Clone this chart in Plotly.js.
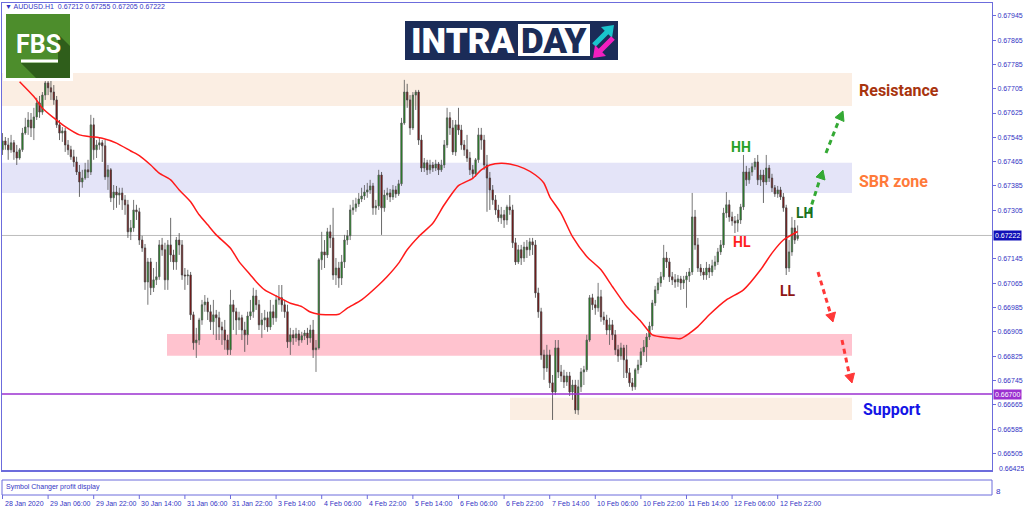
<!DOCTYPE html>
<html><head><meta charset="utf-8">
<script src="https://cdn.plot.ly/plotly-3.0.1.min.js"></script>
<style>html,body{margin:0;padding:0;background:#fff;}#chart{width:1024px;height:511px;}</style>
</head><body><div id="chart"></div>
<script>
// ---- DATA (AUDUSD H1) ----
const open=[0.67504,0.67533,0.67520,0.67504,0.67527,0.67497,0.67477,0.67504,0.67559,0.67579,
0.67602,0.67576,0.67612,0.67658,0.67628,0.67684,0.67724,0.67708,0.67694,0.67668,
0.67586,0.67559,0.67566,0.67520,0.67504,0.67481,0.67464,0.67431,0.67398,0.67411,
0.67438,0.67431,0.67586,0.67504,0.67520,0.67527,0.67517,0.67415,0.67438,0.67346,
0.67365,0.67355,0.67362,0.67339,0.67323,0.67234,0.67247,0.67306,0.67300,0.67207,
0.67181,0.67069,0.67135,0.67050,0.67076,0.67086,0.67191,0.67175,0.67076,0.67191,
0.67158,0.67135,0.67207,0.67191,0.67092,0.67089,0.67092,0.66961,0.66869,0.66878,
0.66944,0.66994,0.67003,0.66971,0.66938,0.66961,0.66951,0.66921,0.66911,0.66878,
0.66846,0.66994,0.66971,0.66944,0.66951,0.66911,0.66895,0.66957,0.66971,0.67023,
0.66994,0.66928,0.66944,0.66951,0.66921,0.66971,0.66951,0.67010,0.67017,0.66994,
0.66971,0.66872,0.66895,0.66885,0.66898,0.66878,0.66892,0.66901,0.66885,0.66911,
0.66846,0.66852,0.67142,0.67168,0.67158,0.67234,0.67214,0.67092,0.67115,0.67082,
0.67135,0.67207,0.67221,0.67306,0.67313,0.67326,0.67342,0.67352,0.67365,0.67372,
0.67385,0.67313,0.67319,0.67421,0.67313,0.67355,0.67362,0.67349,0.67372,0.67359,
0.67392,0.67592,0.67694,0.67668,0.67576,0.67684,0.67694,0.67536,0.67444,0.67461,
0.67438,0.67454,0.67444,0.67457,0.67438,0.67454,0.67520,0.67609,0.67576,0.67497,
0.67586,0.67569,0.67520,0.67504,0.67477,0.67438,0.67425,0.67471,0.67553,0.67536,
0.67454,0.67411,0.67372,0.67339,0.67306,0.67280,0.67290,0.67273,0.67316,0.67306,
0.67198,0.67135,0.67175,0.67148,0.67184,0.67175,0.67201,0.67191,0.67033,0.66971,
0.66829,0.66786,0.66829,0.66737,0.66707,0.66852,0.66773,0.66760,0.66740,0.66760,
0.66707,0.66730,0.66648,0.66724,0.66773,0.66780,0.66878,0.67017,0.66994,0.66984,
0.67020,0.66954,0.66944,0.66911,0.66928,0.66895,0.66846,0.66826,0.66852,0.66813,
0.66770,0.66737,0.66724,0.66780,0.66796,0.66839,0.66855,0.66888,0.66924,0.67000,
0.67043,0.67066,0.67086,0.67148,0.67135,0.67086,0.67076,0.67069,0.67079,0.67066,
0.67076,0.67089,0.67102,0.67283,0.67191,0.67115,0.67102,0.67092,0.67115,0.67102,
0.67122,0.67135,0.67168,0.67191,0.67296,0.67323,0.67283,0.67270,0.67263,0.67273,
0.67316,0.67431,0.67405,0.67431,0.67448,0.67464,0.67405,0.67421,0.67398,0.67444,
0.67411,0.67379,0.67359,0.67372,0.67349,0.67313,0.67115,0.67168,0.67247,0.67212];
const high=[0.67559,0.67546,0.67543,0.67553,0.67536,0.67520,0.67510,0.67576,0.67609,0.67628,
0.67625,0.67642,0.67675,0.67681,0.67694,0.67734,0.67734,0.67731,0.67717,0.67681,
0.67602,0.67579,0.67576,0.67536,0.67517,0.67504,0.67481,0.67454,0.67438,0.67461,
0.67471,0.67619,0.67609,0.67536,0.67543,0.67536,0.67536,0.67454,0.67444,0.67388,
0.67385,0.67379,0.67379,0.67355,0.67339,0.67273,0.67339,0.67323,0.67313,0.67221,
0.67194,0.67148,0.67148,0.67115,0.67135,0.67207,0.67214,0.67198,0.67207,0.67280,
0.67175,0.67217,0.67230,0.67207,0.67115,0.67109,0.67102,0.66971,0.66918,0.66951,
0.67010,0.67026,0.67017,0.66994,0.67010,0.66977,0.66971,0.66938,0.66944,0.66895,
0.67043,0.67010,0.66984,0.66971,0.66961,0.66938,0.66971,0.67010,0.67050,0.67043,
0.67010,0.66967,0.66977,0.66971,0.67010,0.66994,0.67026,0.67059,0.67059,0.67010,
0.66994,0.66918,0.66911,0.66918,0.66911,0.66905,0.66911,0.66918,0.66928,0.66944,
0.66878,0.67148,0.67234,0.67207,0.67247,0.67257,0.67313,0.67148,0.67135,0.67158,
0.67224,0.67240,0.67323,0.67339,0.67346,0.67362,0.67379,0.67388,0.67395,0.67405,
0.67395,0.67339,0.67438,0.67431,0.67372,0.67379,0.67375,0.67388,0.67385,0.67405,
0.67609,0.67734,0.67721,0.67684,0.67694,0.67701,0.67701,0.67553,0.67477,0.67471,
0.67471,0.67464,0.67471,0.67464,0.67471,0.67536,0.67642,0.67628,0.67602,0.67602,
0.67642,0.67586,0.67536,0.67553,0.67497,0.67454,0.67477,0.67576,0.67576,0.67553,
0.67487,0.67431,0.67388,0.67355,0.67323,0.67316,0.67306,0.67323,0.67355,0.67323,
0.67214,0.67191,0.67191,0.67201,0.67207,0.67214,0.67214,0.67207,0.67050,0.66984,
0.66846,0.66862,0.66846,0.66763,0.66878,0.66878,0.66796,0.66780,0.66773,0.66773,
0.66747,0.66747,0.66747,0.66786,0.66793,0.66895,0.67026,0.67030,0.67010,0.67066,
0.67043,0.66971,0.66961,0.66951,0.66944,0.66911,0.66862,0.66869,0.66862,0.66862,
0.66786,0.66753,0.66786,0.66813,0.66852,0.66878,0.66901,0.66938,0.67010,0.67056,
0.67082,0.67102,0.67191,0.67168,0.67148,0.67102,0.67095,0.67092,0.67089,0.67089,
0.67102,0.67115,0.67362,0.67306,0.67214,0.67128,0.67115,0.67135,0.67128,0.67142,
0.67155,0.67181,0.67207,0.67313,0.67365,0.67339,0.67300,0.67286,0.67293,0.67326,
0.67487,0.67451,0.67444,0.67461,0.67477,0.67487,0.67438,0.67438,0.67487,0.67454,
0.67425,0.67388,0.67385,0.67382,0.67362,0.67323,0.67207,0.67283,0.67273,0.67255];
const low=[0.67487,0.67504,0.67471,0.67494,0.67471,0.67454,0.67471,0.67497,0.67553,0.67553,
0.67546,0.67536,0.67602,0.67609,0.67619,0.67668,0.67684,0.67668,0.67652,0.67576,
0.67536,0.67530,0.67497,0.67487,0.67471,0.67448,0.67421,0.67349,0.67379,0.67405,
0.67411,0.67421,0.67471,0.67477,0.67504,0.67464,0.67405,0.67372,0.67332,0.67306,
0.67313,0.67323,0.67306,0.67290,0.67214,0.67207,0.67234,0.67273,0.67191,0.67168,
0.67043,0.66994,0.67026,0.67036,0.67059,0.67076,0.67155,0.67043,0.67043,0.67135,
0.67109,0.67109,0.67158,0.67076,0.67043,0.67059,0.66944,0.66846,0.66819,0.66862,
0.66928,0.66971,0.66944,0.66911,0.66895,0.66878,0.66878,0.66862,0.66846,0.66829,
0.66829,0.66911,0.66895,0.66911,0.66878,0.66839,0.66862,0.66944,0.66951,0.66977,
0.66911,0.66885,0.66911,0.66905,0.66911,0.66928,0.66938,0.66994,0.66971,0.66951,
0.66852,0.66829,0.66862,0.66872,0.66859,0.66869,0.66878,0.66862,0.66869,0.66819,
0.66773,0.66846,0.67109,0.67115,0.67148,0.67181,0.67076,0.67059,0.67050,0.67059,
0.67115,0.67191,0.67207,0.67290,0.67300,0.67316,0.67332,0.67339,0.67346,0.67359,
0.67290,0.67290,0.67306,0.67224,0.67300,0.67339,0.67332,0.67339,0.67346,0.67352,
0.67385,0.67586,0.67642,0.67553,0.67569,0.67635,0.67520,0.67431,0.67431,0.67421,
0.67425,0.67431,0.67434,0.67421,0.67431,0.67444,0.67510,0.67553,0.67487,0.67484,
0.67553,0.67504,0.67484,0.67464,0.67421,0.67411,0.67415,0.67461,0.67504,0.67438,
0.67300,0.67306,0.67323,0.67290,0.67267,0.67260,0.67247,0.67257,0.67290,0.67181,
0.67125,0.67128,0.67125,0.67135,0.67148,0.67155,0.67158,0.67017,0.66951,0.66813,
0.66747,0.66773,0.66720,0.66615,0.66697,0.66753,0.66740,0.66720,0.66727,0.66694,
0.66681,0.66635,0.66632,0.66707,0.66730,0.66773,0.66872,0.66977,0.66961,0.66971,
0.66938,0.66928,0.66895,0.66862,0.66878,0.66829,0.66806,0.66813,0.66753,0.66753,
0.66724,0.66711,0.66714,0.66767,0.66786,0.66826,0.66806,0.66878,0.66911,0.66990,
0.67030,0.67053,0.67076,0.67115,0.67069,0.67059,0.67050,0.67053,0.67043,0.67046,
0.66984,0.67069,0.67092,0.67175,0.67102,0.67089,0.67076,0.67076,0.67082,0.67089,
0.67109,0.67125,0.67158,0.67181,0.67280,0.67267,0.67254,0.67230,0.67234,0.67260,
0.67306,0.67385,0.67392,0.67418,0.67438,0.67388,0.67385,0.67329,0.67388,0.67398,
0.67365,0.67349,0.67346,0.67339,0.67300,0.67092,0.67102,0.67155,0.67194,0.67205];
const close=[0.67533,0.67520,0.67504,0.67527,0.67497,0.67477,0.67504,0.67559,0.67579,0.67602,
0.67576,0.67612,0.67658,0.67628,0.67684,0.67724,0.67708,0.67694,0.67668,0.67586,
0.67559,0.67566,0.67520,0.67504,0.67481,0.67464,0.67431,0.67398,0.67411,0.67438,
0.67431,0.67586,0.67504,0.67520,0.67527,0.67517,0.67415,0.67438,0.67346,0.67365,
0.67355,0.67362,0.67339,0.67323,0.67234,0.67247,0.67306,0.67300,0.67207,0.67181,
0.67069,0.67135,0.67050,0.67076,0.67086,0.67191,0.67175,0.67076,0.67191,0.67158,
0.67135,0.67207,0.67191,0.67092,0.67089,0.67092,0.66961,0.66869,0.66878,0.66944,
0.66994,0.67003,0.66971,0.66938,0.66961,0.66951,0.66921,0.66911,0.66878,0.66846,
0.66994,0.66971,0.66944,0.66951,0.66911,0.66895,0.66957,0.66971,0.67023,0.66994,
0.66928,0.66944,0.66951,0.66921,0.66971,0.66951,0.67010,0.67017,0.66994,0.66971,
0.66872,0.66895,0.66885,0.66898,0.66878,0.66892,0.66901,0.66885,0.66911,0.66846,
0.66852,0.67142,0.67168,0.67158,0.67234,0.67214,0.67092,0.67115,0.67082,0.67135,
0.67207,0.67221,0.67306,0.67313,0.67326,0.67342,0.67352,0.67365,0.67372,0.67385,
0.67313,0.67319,0.67421,0.67313,0.67355,0.67362,0.67349,0.67372,0.67359,0.67392,
0.67592,0.67694,0.67668,0.67576,0.67684,0.67694,0.67536,0.67444,0.67461,0.67438,
0.67454,0.67444,0.67457,0.67438,0.67454,0.67520,0.67609,0.67576,0.67497,0.67586,
0.67569,0.67520,0.67504,0.67477,0.67438,0.67425,0.67471,0.67553,0.67536,0.67454,
0.67411,0.67372,0.67339,0.67306,0.67280,0.67290,0.67273,0.67316,0.67306,0.67198,
0.67135,0.67175,0.67148,0.67184,0.67175,0.67201,0.67191,0.67033,0.66971,0.66829,
0.66786,0.66829,0.66737,0.66707,0.66852,0.66773,0.66760,0.66740,0.66760,0.66707,
0.66730,0.66648,0.66724,0.66773,0.66780,0.66878,0.67017,0.66994,0.66984,0.67020,
0.66954,0.66944,0.66911,0.66928,0.66895,0.66846,0.66826,0.66852,0.66813,0.66770,
0.66737,0.66724,0.66780,0.66796,0.66839,0.66855,0.66888,0.66924,0.67000,0.67043,
0.67066,0.67086,0.67148,0.67135,0.67086,0.67076,0.67069,0.67079,0.67066,0.67076,
0.67089,0.67102,0.67283,0.67191,0.67115,0.67102,0.67092,0.67115,0.67102,0.67122,
0.67135,0.67168,0.67191,0.67296,0.67323,0.67283,0.67270,0.67263,0.67273,0.67316,
0.67431,0.67405,0.67431,0.67448,0.67464,0.67405,0.67421,0.67398,0.67444,0.67411,
0.67379,0.67359,0.67372,0.67349,0.67313,0.67115,0.67168,0.67247,0.67207,0.67222];
// moving average (red line), read at these bar numbers
const maBar=[6,11,14,18,22,27,31,35,40,45,48,52,55,59,62,66,69,72,75,80,83,87,89,92,97,101,105,108,111,118,121,126,132,135,139,142,146,151,155,160,165,168,171,175,178,183,187,190,192,196,200,205,210,214,219,224,228,233,238,241,244,248,254,260,266,270,274,279];
const maVal=[0.67728,0.67679,0.67641,0.67609,0.67580,0.67553,0.67547,0.67542,0.67526,0.67500,0.67485,0.67454,0.67427,0.67405,0.67372,0.67333,0.67290,0.67257,0.67224,0.67180,0.67136,0.67092,0.67070,0.67043,0.67018,0.66999,0.66988,0.66970,0.66963,0.66963,0.66983,0.67010,0.67059,0.67087,0.67131,0.67175,0.67218,0.67262,0.67323,0.67386,0.67410,0.67438,0.67454,0.67460,0.67457,0.67443,0.67421,0.67394,0.67350,0.67295,0.67218,0.67153,0.67109,0.67054,0.66988,0.66939,0.66895,0.66886,0.66883,0.66900,0.66922,0.66961,0.67010,0.67043,0.67109,0.67164,0.67207,0.67235];
const xTickBars=[0,16,32,48,64,80,96,112,128,144,160,176,192,208,224,240,256,272];
const xTickLabels=["28 Jan 2020","29 Jan 06:00","29 Jan 22:00","30 Jan 14:00","31 Jan 06:00","31 Jan 22:00","3 Feb 14:00","4 Feb 06:00","4 Feb 22:00","5 Feb 14:00","6 Feb 06:00","6 Feb 22:00","7 Feb 14:00","10 Feb 06:00","10 Feb 22:00","11 Feb 14:00","12 Feb 06:00","12 Feb 22:00"];
const yTickVals=[0.67945,0.67865,0.67785,0.67705,0.67625,0.67545,0.67465,0.67385,0.67305,0.67145,0.67065,0.66985,0.66905,0.66825,0.66745,0.66665,0.66585,0.66505];
const yBottomLabel=0.66425;
const lastPrice=0.67222;
const levelPrice=0.66700;
const header="\u25BC AUDUSD.H1  0.67212 0.67255 0.67205 0.67222";
const resistanceZone=[0.67648,0.67757], sbrZone=[0.67362,0.67461], pinkZone=[0.66826,0.66898], supportZone=[0.66615,0.66688];

// ---- geometry helpers (pixel -> paper) ----
const PL=2,PR=992,PT=3,PB=471;
const X=p=>(p-PL)/(PR-PL), Y=p=>(PB-p)/(PB-PT);
const path=pts=>'M'+pts.map(p=>X(p[0]).toFixed(5)+','+Y(p[1]).toFixed(5)).join(' L')+' Z';
const bars=open.map((_,i)=>i);
const axisBlue='#6c6cdc', textBlue='#3434c4';
const FONT='Liberation Sans, Arial, sans-serif';

const traces=[
 {type:'candlestick',x:bars,open:open,high:high,low:low,close:close,
  increasing:{line:{color:'#555555',width:0.8},fillcolor:'#109010'},
  decreasing:{line:{color:'#444444',width:0.8},fillcolor:'#900000'},
  whiskerwidth:0,hoverinfo:'skip',showlegend:false},
 {type:'scatter',mode:'lines',x:maBar,y:maVal,line:{color:'#ff1a1a',width:1.5,shape:'spline',smoothing:0.6},hoverinfo:'skip',showlegend:false}
];

const shapes=[];
const rectY=(x0,x1,z,col)=>shapes.push({type:'rect',layer:'below',xref:'paper',yref:'y',x0:x0,x1:x1,y0:z[0],y1:z[1],fillcolor:col,line:{width:0}});
rectY(0,X(852),resistanceZone,'#fbeee3');
rectY(0,X(852),sbrZone,'#e4e4f8');
rectY(X(167),X(852),pinkZone,'#ffc3cf');
rectY(X(510),X(852),supportZone,'#fbeee3');
shapes.push({type:'line',layer:'below',xref:'paper',yref:'y',x0:0,x1:1,y0:lastPrice,y1:lastPrice,line:{color:'#bdbdbd',width:1}});
shapes.push({type:'line',layer:'above',xref:'paper',yref:'y',x0:0,x1:1,y0:levelPrice,y1:levelPrice,line:{color:'#9b30d0',width:1.5}});
// bottom border & sub window
shapes.push({type:'line',xref:'paper',yref:'paper',x0:0,x1:1,y0:Y(471),y1:Y(471),line:{color:axisBlue,width:2}});
shapes.push({type:'rect',xref:'paper',yref:'paper',x0:X(2),x1:X(992),y0:Y(480),y1:Y(495),line:{color:axisBlue,width:1},fillcolor:'rgba(0,0,0,0)'});
xTickBars.forEach(b=>shapes.push({type:'line',xref:'x',yref:'paper',x0:b,x1:b,y0:Y(495),y1:Y(499),line:{color:axisBlue,width:1}}));
// FBS logo
shapes.push({type:'rect',xref:'paper',yref:'paper',x0:X(3),x1:X(73),y0:Y(81),y1:Y(11),fillcolor:'#ffffff',line:{width:0}});
shapes.push({type:'rect',xref:'paper',yref:'paper',x0:X(6),x1:X(70),y0:Y(78),y1:Y(14),fillcolor:'#4d8d2c',line:{width:0}});
shapes.push({type:'path',xref:'paper',yref:'paper',path:path([[58,34],[70,46],[70,78],[36,78],[21,63],[58,63]]),fillcolor:'#2f5e1b',line:{width:0}});
shapes.push({type:'rect',xref:'paper',yref:'paper',x0:X(21),x1:X(58),y0:Y(62.5),y1:Y(59.5),fillcolor:'#ffffff',line:{width:0}});
// INTRADAY logo
shapes.push({type:'rect',xref:'paper',yref:'paper',x0:X(405),x1:X(618),y0:Y(60),y1:Y(21),fillcolor:'#1b2c58',line:{width:0}});
shapes.push({type:'rect',xref:'paper',yref:'paper',x0:X(518),x1:X(590),y0:Y(56),y1:Y(24),fillcolor:'#ffffff',line:{width:0}});
shapes.push({type:'path',xref:'paper',yref:'paper',path:path([[614,25],[612,38],[608.3,34.3],[595.8,46.8],[592.2,43.2],[604.7,30.7],[601,27]]),fillcolor:'#19c4cc',line:{width:0}});
shapes.push({type:'path',xref:'paper',yref:'paper',path:path([[593,58],[595,45],[598.7,48.7],[611.2,36.2],[614.8,39.8],[602.3,52.3],[606,56]]),fillcolor:'#f21fc0',line:{width:0}});
// dashed arrows
const dashLine=(a,b,col)=>shapes.push({type:'line',xref:'paper',yref:'paper',x0:X(a[0]),y0:Y(a[1]),x1:X(b[0]),y1:Y(b[1]),line:{color:col,width:3,dash:'5px,4px'}});
const head=(pts,col)=>shapes.push({type:'path',xref:'paper',yref:'paper',path:path(pts),fillcolor:col,line:{color:col,width:1}});
const G='#34a934', Rd='#ff3838';
dashLine([809,213],[820,179],G); head([[823,170],[825,180],[816,177]],G);
dashLine([826,153],[839,120],G); head([[843,111],[844,121.5],[835,117.5]],G);
dashLine([818,272],[830,312],Rd); head([[833,322],[835.5,312],[825.8,315]],Rd);
dashLine([842,340],[849,373],Rd); head([[852,383],[854.5,373],[845,375.5]],Rd);

const ann=[];
const T=(text,x,y,o)=>ann.push(Object.assign({text:text,xref:'paper',yref:'paper',x:X(x),y:Y(y),showarrow:false,xanchor:'left',yanchor:'middle',font:{family:FONT,size:7,color:textBlue}},o||{}));
T(header,3,7);
T('Symbol Changer profit display',4,487);
T('8',994,491,{font:{family:FONT,size:8,color:textBlue}});
xTickBars.forEach((b,i)=>ann.push({text:xTickLabels[i],xref:'x',yref:'paper',x:b,y:Y(503),xanchor:'left',yanchor:'middle',showarrow:false,xshift:0,font:{family:FONT,size:7,color:textBlue}}));
T(yBottomLabel.toFixed(5),997,468);
ann.push({text:lastPrice.toFixed(5),xref:'paper',yref:'y',x:X(993),y:lastPrice,xanchor:'left',yanchor:'middle',showarrow:false,bgcolor:'#1010b8',borderpad:1,font:{family:FONT,size:7,color:'#ffffff'}});
ann.push({text:levelPrice.toFixed(5),xref:'paper',yref:'y',x:X(993),y:levelPrice,xanchor:'left',yanchor:'middle',showarrow:false,bgcolor:'#9b30d0',borderpad:1,font:{family:FONT,size:7,color:'#ffffff'}});
// logos text
T('FBS',38.5,44,{xanchor:'center',font:{family:'Roboto, sans-serif',size:25,color:'#ffffff',weight:'bold'}});
T('INTRA',463,41.5,{xanchor:'center',font:{family:'Roboto, sans-serif',size:35,color:'#ffffff',weight:900}});
T('DAY',554,41.5,{xanchor:'center',font:{family:'Roboto, sans-serif',size:35,color:'#1b2c58',weight:900}});
// zone labels and swing labels
const BF='Roboto, sans-serif';
T('Resistance',857,90,{font:{family:BF,size:16,color:'#a8340e',weight:'bold'}});
T('SBR zone',857,181,{font:{family:BF,size:16,color:'#ff7a3a',weight:'bold'}});
T('Support',861,409,{font:{family:BF,size:16,color:'#1414e6',weight:'bold'}});
T('HH',741,147,{xanchor:'center',font:{family:BF,size:14,color:'#26a126',weight:'bold'}});
T('HL',742,242,{xanchor:'center',font:{family:BF,size:14,color:'#ff1e1e',weight:'bold'}});
T('LH',804,213,{xanchor:'center',font:{family:BF,size:14,color:'#1b6e1b',weight:'bold'}});
T('LL',788,291,{xanchor:'center',font:{family:BF,size:14,color:'#8e1414',weight:'bold'}});

const layout={width:1024,height:511,margin:{l:PL,r:1024-PR,t:PT,b:511-PB},
 paper_bgcolor:'#ffffff',plot_bgcolor:'#ffffff',showlegend:false,hovermode:false,
 xaxis:{range:[-0.175,347.2],showgrid:false,zeroline:false,showticklabels:false,ticks:'',showline:true,linecolor:axisBlue,linewidth:1,mirror:true,rangeslider:{visible:false},fixedrange:true},
 yaxis:{side:'right',range:[0.66447,0.67987],tickvals:yTickVals,ticktext:yTickVals.map(v=>v.toFixed(5)),ticks:'outside',ticklen:3,tickcolor:axisBlue,
  tickfont:{family:FONT,size:7,color:textBlue},showgrid:false,zeroline:false,showline:true,linecolor:axisBlue,linewidth:1,mirror:true,fixedrange:true},
 shapes:shapes,annotations:ann};
Plotly.newPlot('chart',traces,layout,{displayModeBar:false,staticPlot:true});
</script></body></html>
